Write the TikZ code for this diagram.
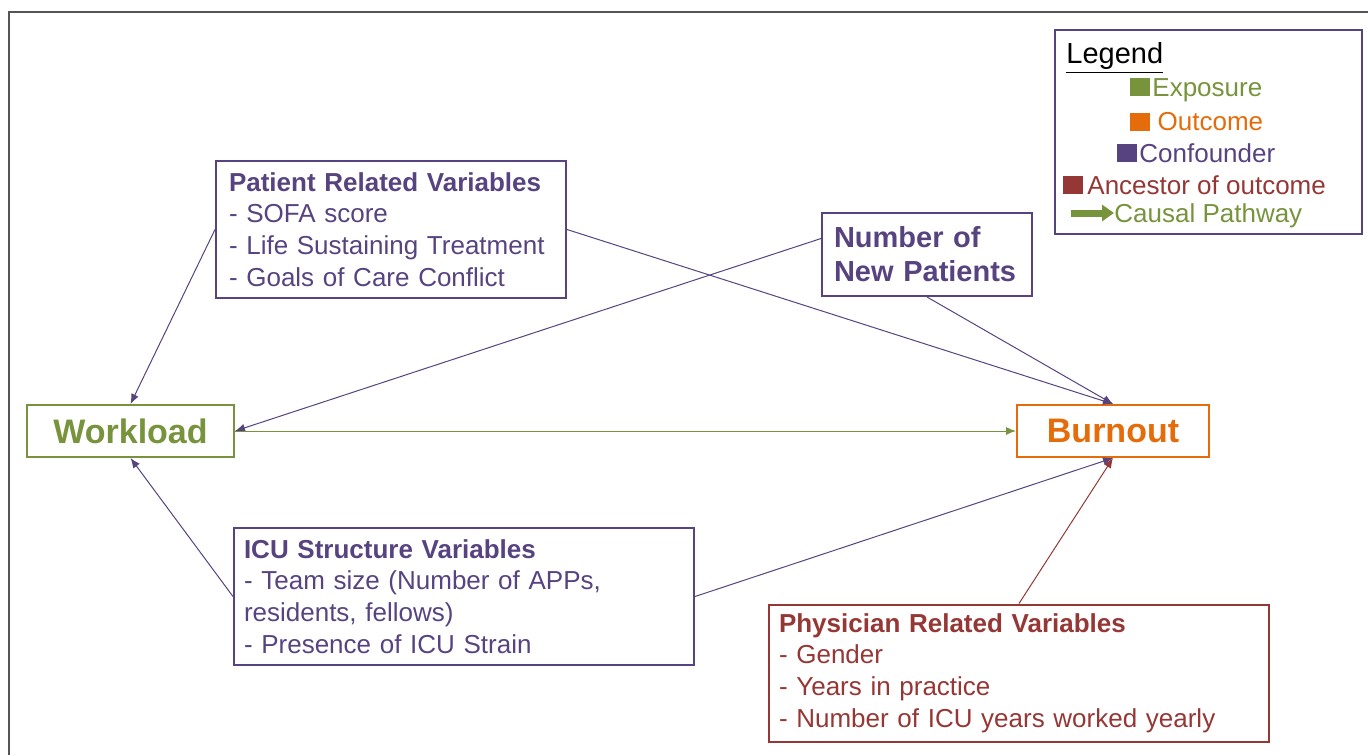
\documentclass[tikz,border=0pt]{standalone}
\usepackage{fontspec}
\setmainfont{Liberation Sans}
\usetikzlibrary{arrows.meta,positioning,calc}
\definecolor{expo}{HTML}{77933C}
\definecolor{outc}{HTML}{E46C0A}
\definecolor{conf}{HTML}{574380}
\definecolor{ance}{HTML}{953735}
\definecolor{frame}{HTML}{555555}

\begin{document}
\begin{tikzpicture}[x=0.5pt,y=-0.5pt,
  varbox/.style={draw=#1,text=#1,line width=1pt,align=left,inner ysep=0pt,
                 font={\fontsize{13}{15.9}\selectfont},minimum height=68.5pt},
  mainbox/.style={draw=#1,text=#1,line width=1pt,minimum height=26pt,
                 font={\fontsize{17}{20}\selectfont\bfseries}},
  keytext/.style={anchor=west,inner sep=0pt,text=#1,font={\fontsize{13}{16}\selectfont}},
  link/.style={draw=#1,line width=0.5pt,-{Latex[length=5pt,width=4pt]}}]
  \useasboundingbox (0,0) rectangle (1368,755);
  \draw[frame,line width=1pt] (9,755) -- (9,12) -- (1368,12);

  \node[mainbox=expo,minimum width=103.5pt] (workload) at (130.5,431) {Workload};
  \node[mainbox=outc,minimum width=96pt] (burnout) at (1113,431) {Burnout};

  \node[varbox=conf,text width=162pt,inner xsep=6.5pt] (patient) at (391,229.5)
    {\textbf{Patient Related Variables}\\- SOFA score\\- Life Sustaining Treatment\\- Goals of Care Conflict};
  \node[varbox=conf,text width=220pt,inner xsep=5pt] (icu) at (464,596.5)
    {\textbf{ICU Structure Variables}\\- Team size (Number of APPs,\\residents, fellows)\\- Presence of ICU Strain};
  \node[varbox=ance,text width=240pt,inner xsep=5pt] (physician) at (1019,673)
    {\textbf{Physician Related Variables}\\- Gender\\- Years in practice\\- Number of ICU years worked yearly};
  \node[draw=conf,text=conf,line width=1pt,align=left,text width=93pt,inner xsep=6pt,
        minimum height=41.5pt,font={\fontsize{14.5}{17}\selectfont\bfseries}] (newpat) at (927,254.5)
    {Number of\\New Patients};

  \draw[link=conf] (patient.west) -- (workload.north);
  \draw[link=conf] (patient.east) -- (burnout.north);
  \draw[link=conf] ([yshift=8pt]newpat.west) -- (workload.east);
  \draw[link=conf] (newpat.south) -- (burnout.north);
  \draw[link=expo] (workload.east) -- (burnout.west);
  \draw[link=conf] (icu.west) -- (workload.south);
  \draw[link=conf] (icu.east) -- (burnout.south);
  \draw[link=ance] (physician.north) -- (burnout.south);

  \node[draw=conf,line width=1pt,minimum width=153.5pt,minimum height=102pt] (legend) at (1208.5,132) {};
  \node[keytext=black,font={\fontsize{14.5}{16}\selectfont}] (legtitle) at (1066,58) {\underline{Legend}};
  \node[keytext=expo] (kexpo) at (1130,90) {\textcolor{expo}{\rule{10pt}{9pt}}\hspace{1pt}Exposure};
  \node[keytext=outc] (koutc) at (1130,122) {\textcolor{outc}{\rule{10pt}{9pt}} Outcome};
  \node[keytext=conf] (kconf) at (1117,153) {\textcolor{conf}{\rule{10pt}{9pt}}\hspace{1pt}Confounder};
  \node[keytext=ance] (kance) at (1063,185) {\textcolor{ance}{\rule{10pt}{9pt}}\hspace{2pt}Ancestor of outcome};
  \node[keytext=expo] (kpath) at (1114,216) {Causal Pathway};
  \coordinate (kpathtail) at (1071,213);
  \draw[expo,line width=3.5pt,-{Triangle[length=6pt,width=8pt]}] (kpathtail) -- (kpath.west |- kpathtail);
\end{tikzpicture}
\end{document}
